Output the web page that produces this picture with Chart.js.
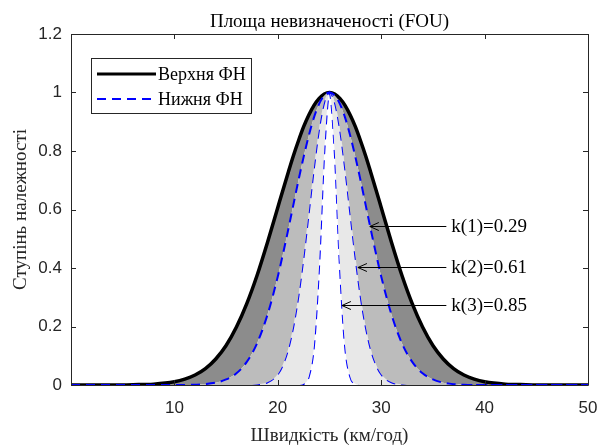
<!DOCTYPE html>
<html>
<head>
<meta charset="utf-8">
<title>Площа невизначеності (FOU)</title>
<script src="https://cdn.jsdelivr.net/npm/chart.js@4.4.1/dist/chart.umd.min.js"></script>
<style>
  body { margin: 0; background: #fff; }
  #wrap { width: 598px; height: 446px; }
</style>
</head>
<body>
<div id="wrap"><canvas id="fou" width="598" height="446"></canvas></div>
<script>
// швидкість, км/год (вісь X)
const speed = [0, 2, 4, 6, 8, 10, 11, 12, 13, 14, 15, 16, 17, 18, 19, 20, 20.5, 21, 21.5, 22, 22.5, 23, 23.5, 24, 24.5,
  25, 25.5, 26, 26.5, 27, 27.5, 28, 28.5, 29, 29.5, 30, 31, 32, 33, 34, 35, 36, 37, 38, 39, 40, 42, 44, 46, 48, 50];

// верхня функція належності
const upperMF = [0, 0, 0, 0.001, 0.003, 0.011, 0.020, 0.034, 0.056, 0.089, 0.135, 0.198, 0.278, 0.375, 0.487, 0.607, 0.667, 0.726, 0.783, 0.835, 0.883, 0.923, 0.956, 0.980, 0.995,
  1, 0.995, 0.980, 0.956, 0.923, 0.883, 0.835, 0.783, 0.726, 0.667, 0.607, 0.487, 0.375, 0.278, 0.198, 0.135, 0.089, 0.056, 0.034, 0.020, 0.011, 0.003, 0.001, 0, 0, 0];

// нижні функції належності для k(1), k(2), k(3)
const lowerK1 = [0, 0, 0, 0, 0, 0, 0, 0.001, 0.003, 0.008, 0.019, 0.040, 0.079, 0.143, 0.240, 0.371, 0.448, 0.530, 0.615, 0.700, 0.780, 0.853, 0.915, 0.961, 0.990,
  1, 0.990, 0.961, 0.915, 0.853, 0.780, 0.700, 0.615, 0.530, 0.448, 0.371, 0.240, 0.143, 0.079, 0.040, 0.019, 0.008, 0.003, 0.001, 0, 0, 0, 0, 0, 0, 0];
const lowerK2 = [0, 0, 0, 0, 0, 0, 0, 0, 0, 0, 0, 0, 0, 0.002, 0.009, 0.037, 0.070, 0.122, 0.200, 0.306, 0.440, 0.591, 0.744, 0.877, 0.968,
  1, 0.968, 0.877, 0.744, 0.591, 0.440, 0.306, 0.200, 0.122, 0.070, 0.037, 0.009, 0.002, 0, 0, 0, 0, 0, 0, 0, 0, 0, 0, 0, 0, 0];
const lowerK3 = [0, 0, 0, 0, 0, 0, 0, 0, 0, 0, 0, 0, 0, 0, 0, 0, 0, 0, 0, 0, 0.004, 0.029, 0.135, 0.411, 0.801,
  1, 0.801, 0.411, 0.135, 0.029, 0.004, 0, 0, 0, 0, 0, 0, 0, 0, 0, 0, 0, 0, 0, 0, 0, 0, 0, 0, 0, 0];

const kLabels = ['k(1)=0.29', 'k(2)=0.61', 'k(3)=0.85'];
const legendLabels = ['Верхня ФН', 'Нижня ФН'];
const chartTitle = 'Площа невизначеності (FOU)';
const xTicks = [10, 20, 30, 40, 50];
const yTicks = [0, 0.2, 0.4, 0.6, 0.8, 1, 1.2];
const yTickLabels = ['0', '0.2', '0.4', '0.6', '0.8', '1', '1.2'];

const serif = '"Liberation Serif", "Times New Roman", serif';
const sans = '"Liberation Sans", Arial, sans-serif';
const axisColor = '#262626';

const pts = ys => speed.map((x, i) => ({ x: x, y: ys[i] }));

// заголовок по центру області графіка (як у MATLAB)
const axesTitle = {
  id: 'axesTitle',
  afterDraw(chart) {
    const { ctx, chartArea: a } = chart;
    ctx.save();
    ctx.fillStyle = '#000';
    ctx.font = '19px ' + serif;
    ctx.textAlign = 'center';
    ctx.textBaseline = 'middle';
    ctx.fillText(chartTitle, (a.left + a.right) / 2, a.top - 12);
    ctx.restore();
  }
};

// рамка з внутрішніми рисками
const frameBox = {
  id: 'frameBox',
  afterDatasetsDraw(chart) {
    const { ctx, chartArea: a, scales } = chart;
    ctx.save();
    ctx.strokeStyle = axisColor;
    ctx.lineWidth = 1;
    ctx.beginPath();
    ctx.rect(Math.round(a.left) + 0.5, Math.round(a.top) + 0.5, Math.round(a.right - a.left), Math.round(a.bottom - a.top));
    yTicks.forEach(v => {
      const y = Math.round(scales.y.getPixelForValue(v)) + 0.5;
      ctx.moveTo(a.left, y); ctx.lineTo(a.left + 5, y);
      ctx.moveTo(a.right, y); ctx.lineTo(a.right - 5, y);
    });
    xTicks.forEach(v => {
      const x = Math.round(scales.x.getPixelForValue(v)) + 0.5;
      ctx.moveTo(x, a.bottom); ctx.lineTo(x, a.bottom - 5);
      ctx.moveTo(x, a.top); ctx.lineTo(x, a.top + 5);
    });
    ctx.stroke();
    ctx.restore();
  }
};

// стрілки з підписами k(i)
const kArrows = {
  id: 'kArrows',
  afterDatasetsDraw(chart) {
    const { ctx, scales } = chart;
    const tips = [[28.9, 0.545], [27.75, 0.404], [26.2, 0.275]];
    const tailX = scales.x.getPixelForValue(36.3);
    ctx.save();
    ctx.strokeStyle = '#000';
    ctx.fillStyle = '#000';
    ctx.lineWidth = 1;
    ctx.font = '19px ' + serif;
    ctx.textBaseline = 'middle';
    tips.forEach((t, i) => {
      const tx = scales.x.getPixelForValue(t[0]);
      const ty = Math.round(scales.y.getPixelForValue(t[1])) + 0.5;
      ctx.beginPath();
      ctx.moveTo(tailX, ty); ctx.lineTo(tx, ty);
      ctx.moveTo(tx + 9, ty - 4); ctx.lineTo(tx, ty); ctx.lineTo(tx + 9, ty + 4);
      ctx.stroke();
      ctx.fillText(kLabels[i], tailX + 5, ty + 1);
    });
    ctx.restore();
  }
};

// легенда в лівому верхньому куті
const fouLegend = {
  id: 'fouLegend',
  afterDraw(chart) {
    const { ctx, chartArea: a } = chart;
    const x0 = Math.round(a.left) + 20, y0 = Math.round(a.top) + 24;
    ctx.save();
    ctx.fillStyle = '#fff';
    ctx.fillRect(x0, y0, 160, 55);
    ctx.strokeStyle = axisColor;
    ctx.lineWidth = 1;
    ctx.strokeRect(x0 + 0.5, y0 + 0.5, 160, 55);
    ctx.beginPath();
    ctx.strokeStyle = '#000';
    ctx.lineWidth = 3;
    ctx.moveTo(x0 + 6, y0 + 16); ctx.lineTo(x0 + 65, y0 + 16);
    ctx.stroke();
    ctx.beginPath();
    ctx.strokeStyle = '#0000ff';
    ctx.lineWidth = 2;
    ctx.setLineDash([9, 6]);
    ctx.moveTo(x0 + 6, y0 + 41); ctx.lineTo(x0 + 65, y0 + 41);
    ctx.stroke();
    ctx.setLineDash([]);
    ctx.fillStyle = '#000';
    ctx.font = '18px ' + serif;
    ctx.textBaseline = 'middle';
    ctx.fillText(legendLabels[0], x0 + 67, y0 + 17);
    ctx.fillText(legendLabels[1], x0 + 67, y0 + 42);
    ctx.restore();
  }
};

const dash = { borderColor: '#0000ff', borderWidth: 2, borderDash: [9, 6], order: 0 };

new Chart(document.getElementById('fou'), {
  type: 'line',
  data: {
    datasets: [
      { label: legendLabels[0], data: pts(upperMF), borderColor: '#000', borderWidth: 3.5, fill: '+1', backgroundColor: '#8c8c8c', order: 1 },
      Object.assign({ label: legendLabels[1], data: pts(lowerK1), fill: '+1', backgroundColor: '#bcbcbc' }, dash),
      Object.assign({ label: 'k2', data: pts(lowerK2), fill: '+1', backgroundColor: '#e8e8e8' }, dash),
      Object.assign({ label: 'k3', data: pts(lowerK3), fill: false }, dash)
    ]
  },
  options: {
    responsive: false,
    animation: false,
    layout: { padding: { left: 0, right: 10, top: 34, bottom: 0 } },
    elements: {
      point: { radius: 0 },
      line: { cubicInterpolationMode: 'monotone' }
    },
    scales: {
      x: {
        type: 'linear', min: 0, max: 50,
        afterBuildTicks: s => { s.ticks = xTicks.map(v => ({ value: v })); },
        afterFit: s => { s.height = 61; s.paddingLeft = 0; s.paddingRight = 0; },
        grid: { display: false, drawTicks: false },
        border: { display: false },
        ticks: { font: { family: sans, size: 17 }, color: axisColor, padding: 13, maxRotation: 0 },
        title: { display: true, text: 'Швидкість (км/год)', font: { family: serif, size: 19, lineHeight: 1 }, color: axisColor, padding: { top: 0, bottom: 0 } }
      },
      y: {
        min: 0, max: 1.2,
        afterBuildTicks: s => { s.ticks = yTicks.map(v => ({ value: v })); },
        afterFit: s => { s.width = 71; s.paddingTop = 0; s.paddingBottom = 0; },
        grid: { display: false, drawTicks: false },
        border: { display: false },
        ticks: { font: { family: sans, size: 17 }, color: axisColor, padding: 9, callback: (v, i) => yTickLabels[i] },
        title: { display: true, text: 'Ступінь належності', font: { family: serif, size: 19, lineHeight: 1 }, color: axisColor, padding: { top: 12, bottom: 0 } }
      }
    },
    plugins: {
      legend: { display: false },
      tooltip: { enabled: false },
      title: { display: false }
    }
  },
  plugins: [frameBox, kArrows, fouLegend, axesTitle]
});
</script>
</body>
</html>
